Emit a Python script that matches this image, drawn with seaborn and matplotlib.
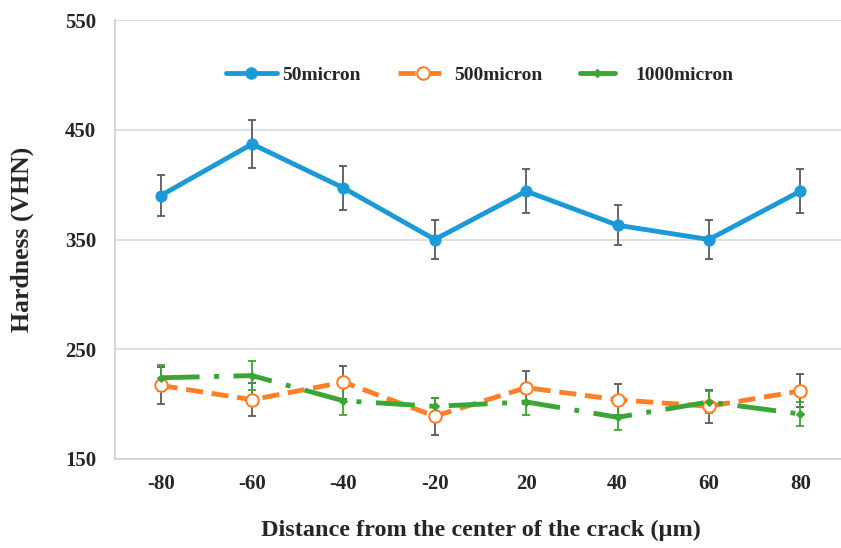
import matplotlib
matplotlib.use("Agg")
import matplotlib.pyplot as plt
import seaborn as sns
import pandas as pd
from matplotlib.lines import Line2D
from matplotlib.legend_handler import HandlerLine2D

distances = ["-80", "-60", "-40", "-20", "20", "40", "60", "80"]
hv_50 = [390, 437, 397, 350, 394, 363, 350, 394]
err_50 = [19, 22, 20, 18, 20, 18, 18, 20]
hv_500 = [217, 204, 220, 189, 215, 204, 198, 212]
err_500 = [17, 15, 15, 17, 15, 14, 15, 15]
hv_1000 = [224, 226, 203, 198, 202, 188, 202, 191]
err_1000 = [12, 13, 13, 8, 12, 12, 10, 11]
labels = ["50micron", "500micron", "1000micron"]

sns.set_theme(style="white")
plt.rcParams['font.family'] = ['Liberation Serif', 'DejaVu Serif']
plt.rcParams['font.weight'] = 'bold'

c_blue = "#1B9AD7"
c_orange = "#FF7F27"
c_green = "#3BA535"
c_err = "#595959"


class ShortHandler(HandlerLine2D):
    def create_artists(self, legend, orig_handle, xdescent, ydescent, width, height, fontsize, trans):
        return super().create_artists(legend, orig_handle, xdescent, ydescent, width * 0.7,
                                      height, fontsize, trans)


fig = plt.figure(figsize=(8.41, 5.48), dpi=100)
ax = fig.add_axes([115/841, (548-459)/548, 731/841, 439/548])

df50 = pd.DataFrame({"x": distances, "y": hv_50})
df500 = pd.DataFrame({"x": distances, "y": hv_500})
df1000 = pd.DataFrame({"x": distances, "y": hv_1000})

ax.errorbar(distances, hv_50, yerr=err_50, fmt="none", ecolor=c_err, elinewidth=1.3, capsize=3, capthick=1.3, zorder=2)
ax.errorbar(distances, hv_500, yerr=err_500, fmt="none", ecolor=c_err, elinewidth=1.3, capsize=3, capthick=1.3, zorder=2)
ax.errorbar(distances, hv_1000, yerr=err_1000, fmt="none", ecolor=c_green, elinewidth=1.3, capsize=3, capthick=1.3, zorder=2)

sns.lineplot(data=df50, x="x", y="y", ax=ax, color=c_blue, lw=3.5, marker="o", markersize=8,
             markeredgecolor=c_blue, sort=False, zorder=4)
sns.lineplot(data=df500, x="x", y="y", ax=ax, color=c_orange, lw=3.5, dashes=(3.5, 1.8), marker="o",
             markersize=9, markerfacecolor="white", markeredgecolor=c_orange, markeredgewidth=1.5,
             sort=False, zorder=3)
sns.lineplot(data=df1000, x="x", y="y", ax=ax, color=c_green, lw=3.5, dashes=(8, 3, 1, 3), marker="D",
             markersize=4.5, markeredgecolor=c_green, sort=False, zorder=3)

ax.set_xlim(-0.5, 7.5)
ax.set_ylim(150, 550)
ax.set_yticks([150, 250, 350, 450, 550])
ax.yaxis.grid(True, color="#D9D9D9", lw=1.2)
ax.set_axisbelow(True)
for s in ["top", "right"]:
    ax.spines[s].set_visible(False)
for s in ["left", "bottom"]:
    ax.spines[s].set_color("#D0D0D0")
    ax.spines[s].set_linewidth(1.2)
ax.tick_params(axis="both", length=0, labelsize=15)
ax.tick_params(axis="y", pad=13.5)
ax.tick_params(axis="x", pad=11)
for t in ax.get_xticklabels() + ax.get_yticklabels():
    t.set_fontweight("bold")

ax.set_xlabel("Distance from the center of the crack (\u00b5m)", fontsize=17.5, fontweight="bold")
ax.set_ylabel("Hardness (VHN)", fontsize=18.5, fontweight="bold")
ax.xaxis.set_label_coords(0.5, -0.139)
ax.yaxis.set_label_coords(-0.111, 0.5)

handles = [
    Line2D([0], [0], color=c_blue, lw=3.5, marker="o", markersize=8),
    Line2D([0], [0], color=c_orange, lw=3.5, dashes=(3.5, 1.8), marker="o", markersize=9,
           markerfacecolor="white", markeredgewidth=1.5),
    Line2D([0], [0], color=c_green, lw=3.5, marker="D", markersize=4.5),
]
leg = ax.legend(handles, labels, loc="center", bbox_to_anchor=((480-115)/731, (459-75)/439), ncol=3,
                frameon=False, prop={"weight": "bold", "size": 14}, handlelength=2.6,
                columnspacing=1.9, handletextpad=0.3, handler_map={handles[2]: ShortHandler()})

fig.savefig("out.png", dpi=100)
